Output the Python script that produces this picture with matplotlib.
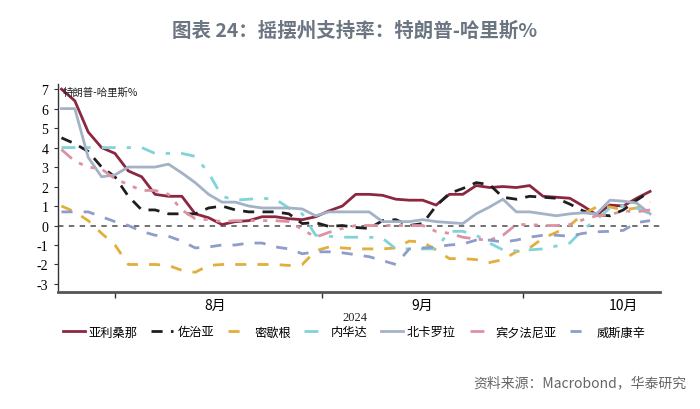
import matplotlib
matplotlib.use("Agg")
import matplotlib.pyplot as plt
import numpy as np
import pandas as pd

plt.rcParams['font.family'] = ['Noto Sans CJK SC', 'DejaVu Sans']

# ---------------- data ----------------
dates = pd.date_range("2024-07-24", periods=45, freq="2D")

arizona = [7.0, 6.4, 4.8, 4.0, 3.7, 2.8, 2.5, 1.6, 1.5, 1.5, 0.6, 0.4, 0.05, 0.2, 0.25,
           0.45, 0.45, 0.35, 0.3, 0.45, 0.75, 1.0, 1.6, 1.6, 1.55, 1.35, 1.3, 1.3, 1.05, 1.6,
           1.6, 2.05, 1.95, 2.0, 1.95, 2.05, 1.5, 1.45, 1.4, 1.0, 0.55, 1.05, 1.0, 1.4, 1.75]
georgia = [4.5, 4.2, 3.8, 3.0, 2.5, 1.5, 0.8, 0.8, 0.6, 0.6, 0.6, 0.9, 1.0, 0.8, 0.7,
           0.7, 0.7, 0.6, 0.1, 0.15, -0.05, 0.0, -0.1, -0.15, 0.25, 0.3, 0.0, 0.1, 1.0, 1.65,
           1.9, 2.2, 2.1, 1.45, 1.35, 1.5, 1.45, 1.4, 1.1, 0.75, 0.55, 0.5, 0.8, 1.3, 1.75]
michigan = [1.0, 0.7, 0.25, -0.4, -1.0, -2.0, -2.0, -2.0, -2.05, -2.3, -2.4, -2.05, -2.0, -2.0, -2.0,
            -2.0, -2.0, -2.05, -2.0, -1.3, -1.1, -1.15, -1.2, -1.2, -1.2, -1.15, -0.8, -0.85, -1.25, -1.7,
            -1.7, -1.75, -1.9, -1.75, -1.35, -1.15, -0.65, -0.35, 0.0, 0.6, 0.95, 0.95, 0.8, 0.9, 1.2]
nevada = [4.0, 4.0, 4.0, 4.0, 4.0, 4.0, 4.0, 3.7, 3.7, 3.7, 3.55, 2.7, 1.5, 1.3, 1.35,
          1.4, 1.35, 0.9, 0.6, -0.5, -0.55, -0.6, -0.6, -0.6, -0.65, -1.2, -1.2, -1.2, -1.2, -0.3,
          -0.3, -0.5, -0.9, -1.25, -1.3, -1.25, -1.2, -1.05, -0.9, -0.2, 0.3, 0.9, 1.0, 0.9, 0.6]
n_carolina = [6.0, 6.0, 3.5, 2.5, 2.6, 3.0, 3.0, 3.0, 3.15, 2.7, 2.2, 1.6, 1.2, 1.2, 1.0,
              0.9, 0.9, 0.9, 0.85, 0.5, 0.7, 0.7, 0.7, 0.7, 0.2, 0.2, 0.2, 0.3, 0.2, 0.15,
              0.1, 0.6, 0.95, 1.35, 0.7, 0.7, 0.6, 0.5, 0.6, 0.65, 0.6, 1.3, 1.25, 1.15, 0.6]
pennsylvania = [3.9, 3.3, 3.0, 2.9, 2.4, 2.1, 1.8, 1.8, 1.6, 0.8, 0.35, 0.3, 0.2, 0.25, 0.25,
                0.25, 0.25, 0.2, -0.2, -0.6, -0.35, -0.15, 0.0, 0.0, 0.0, 0.0, 0.0, 0.0, -0.3, -0.4,
                -0.6, -0.7, -0.75, -0.5, 0.05, 0.05, 0.0, 0.0, 0.05, 0.3, 0.5, 0.55, 0.75, 0.7, 0.8]
wisconsin = [0.7, 0.7, 0.7, 0.45, 0.2, 0.0, -0.3, -0.5, -0.55, -0.8, -1.15, -1.1, -1.0, -1.0, -0.9,
             -0.9, -1.1, -1.2, -1.45, -1.35, -1.35, -1.4, -1.5, -1.6, -1.8, -2.0, -1.2, -1.15, -1.1, -1.0,
             -0.95, -0.75, -0.75, -0.85, -0.75, -0.6, -0.5, -0.5, -0.55, -0.4, -0.32, -0.3, -0.25, 0.15, 0.25]

names = ["亚利桑那", "佐治亚", "密歇根", "内华达", "北卡罗拉", "宾夕法尼亚", "威斯康辛"]
series = [arizona, georgia, michigan, nevada, n_carolina, pennsylvania, wisconsin]
colors = ["#8B2740", "#1E1E1E", "#E2AE3C", "#7ED4D8", "#A3B2C6", "#DB93A3", "#8E9DC9"]
styles = [None, (0, (4, 3)), (0, (4, 4)), (0, (5, 4, 1.5, 4)), None,
          (0, (5, 3, 1.5, 3, 1.5, 3)), (0, (4, 4))]

month_ticks = ["2024-08-01", "2024-09-01", "2024-10-01"]
month_label_pos = ["2024-08-16", "2024-09-16", "2024-10-16"]
month_labels = ["8月", "9月", "10月"]
yticks = list(range(-3, 8))

# ---------------- figure ----------------
fig = plt.figure(figsize=(7, 4.1), dpi=100)
ax = fig.add_axes([0.083, 0.285, 0.86, 0.508])

ax.axhline(0, color="#666666", lw=1.3, linestyle=(0, (3, 3)), zorder=1)

for vals, name, c, ls in zip(series, names, colors, styles):
    if ls is None:
        ax.plot(dates, vals, color=c, lw=2.0, label=name, zorder=3)
    else:
        ax.plot(dates, vals, color=c, lw=2.0, linestyle=ls, label=name, zorder=3)

ax.set_xlim(pd.Timestamp("2024-07-23 12:00"), pd.Timestamp("2024-10-21 12:00"))
ax.set_ylim(-3.42, 7.27)

ax.set_yticks(yticks)
ax.set_yticklabels([str(v) for v in yticks], fontfamily="Liberation Serif", fontsize=10)
ax.tick_params(axis="y", direction="out", length=3, width=0.8, color="#333333", pad=4)

ax.set_xticks(pd.to_datetime(month_ticks))
ax.set_xticklabels([])
ax.tick_params(axis="x", which="major", direction="out", length=4, width=1, color="#333333")
ax.set_xticks(pd.to_datetime(month_label_pos), minor=True)
ax.set_xticklabels(month_labels, minor=True, fontsize=10)
ax.tick_params(axis="x", which="minor", length=0, pad=4)

for s in ["top", "right"]:
    ax.spines[s].set_visible(False)
ax.spines["left"].set_color("#333333")
ax.spines["left"].set_linewidth(1.0)
ax.spines["bottom"].set_color("#555555")
ax.spines["bottom"].set_linewidth(2.0)

ax.text(0.008, 0.985, "特朗普-哈里斯%", transform=ax.transAxes, fontsize=7.5,
        ha="left", va="top", color="#222222")

fig.text(0.507, 0.225, "2024", ha="center", va="center", fontsize=9,
         fontfamily="Liberation Serif", color="#222222")

fig.text(0.507, 0.925, "图表 24：摇摆州支持率：特朗普-哈里斯%", ha="center", va="center",
         fontsize=14, color="#6B7682", fontweight="bold")

leg = fig.legend(*ax.get_legend_handles_labels(), loc="center", bbox_to_anchor=(0.506, 0.188),
                 ncol=7, frameon=False, fontsize=8.8, handlelength=1.8, handletextpad=0.35,
                 columnspacing=1.1)

fig.text(0.98, 0.065, "资料来源：Macrobond，华泰研究", ha="right", va="center",
         fontsize=10, color="#666666")

fig.savefig("out.png", dpi=100)
